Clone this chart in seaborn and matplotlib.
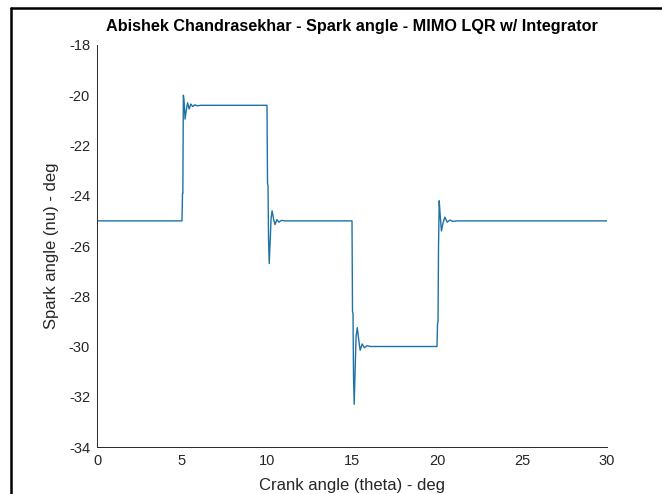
import matplotlib
matplotlib.use("Agg")
import matplotlib.pyplot as plt
from matplotlib.lines import Line2D
import seaborn as sns
import pandas as pd

# Spark angle response of the MIMO LQR controller with integrator
crank_deg = [
    0.0, 5.0, 5.03, 5.05, 5.08, 5.12, 5.18, 5.25, 5.33, 5.42, 5.52, 5.63, 5.75, 5.9, 6.1,
    10.0, 10.03, 10.06, 10.09, 10.13, 10.18, 10.24, 10.3, 10.38, 10.47, 10.58, 10.7, 10.85, 11.05,
    15.0, 15.03, 15.06, 15.09, 15.13, 15.18, 15.24, 15.31, 15.39, 15.48, 15.6, 15.73, 15.88, 16.1,
    20.0, 20.03, 20.06, 20.09, 20.13, 20.19, 20.26, 20.35, 20.46, 20.6, 20.75, 20.95, 21.2,
    30.0,
]
spark_deg = [
    -25.0, -25.0, -23.9, -23.9, -20.0, -20.2, -20.95, -20.6, -20.3, -20.55, -20.35, -20.45, -20.38, -20.42, -20.4,
    -20.4, -23.5, -23.6, -25.7, -26.7, -25.9, -24.9, -24.6, -24.9, -25.15, -24.95, -25.05, -24.98, -25.0,
    -25.0, -28.6, -28.7, -31.2, -32.3, -31.0, -29.6, -29.25, -29.7, -30.15, -29.9, -30.05, -29.97, -30.0,
    -30.0, -29.1, -29.0, -26.0, -24.2, -24.8, -25.4, -25.1, -24.85, -25.05, -24.97, -25.02, -25.0,
    -25.0,
]

x_ticks = [0, 5, 10, 15, 20, 25, 30]
y_ticks = [-34, -32, -30, -28, -26, -24, -22, -20, -18]

sns.set_style("white")
plt.rcParams["font.family"] = ["Liberation Sans", "DejaVu Sans"]

df = pd.DataFrame({"crank": crank_deg, "spark": spark_deg})

fig = plt.figure(figsize=(6.62, 4.94), dpi=100)
ax = fig.add_axes([97 / 662, 1 - 447 / 494, (607 - 97) / 662, (447 - 45) / 494])

sns.lineplot(data=df, x="crank", y="spark", sort=False, estimator=None,
             color="#1f72a6", linewidth=1.0, ax=ax)

ax.set_xlim(0, 30)
ax.set_ylim(-34, -18)
ax.set_xticks(x_ticks)
ax.set_yticks(y_ticks)
ax.set_xticklabels([str(v) for v in x_ticks])
ax.set_yticklabels([str(v) for v in y_ticks])

gray = "#262626"
for side in ("top", "right"):
    ax.spines[side].set_visible(False)
for side in ("left", "bottom"):
    ax.spines[side].set_color(gray)
    ax.spines[side].set_linewidth(0.7)
ax.tick_params(axis="both", direction="in", length=4, width=0.7, color=gray,
               labelcolor=gray, labelsize=10.5, pad=5)

ax.set_xlabel("Crank angle (theta) - deg", fontsize=12, color=gray, labelpad=7)
ax.set_ylabel("Spark angle (nu) - deg", fontsize=12, color=gray, labelpad=7)
ax.set_title("Abishek Chandrasekhar - Spark angle - MIMO LQR w/ Integrator",
             fontsize=11.7, fontweight="bold", color="black", pad=10)

# Black frame running along the top and left edges of the figure
fig.add_artist(Line2D([11 / 662, 11 / 662], [0, 1 - 8 / 494], transform=fig.transFigure,
                      color="black", linewidth=1.8))
fig.add_artist(Line2D([11 / 662, 1], [1 - 8 / 494, 1 - 8 / 494], transform=fig.transFigure,
                      color="black", linewidth=1.8))

fig.savefig("out.png", dpi=100, facecolor="white")
